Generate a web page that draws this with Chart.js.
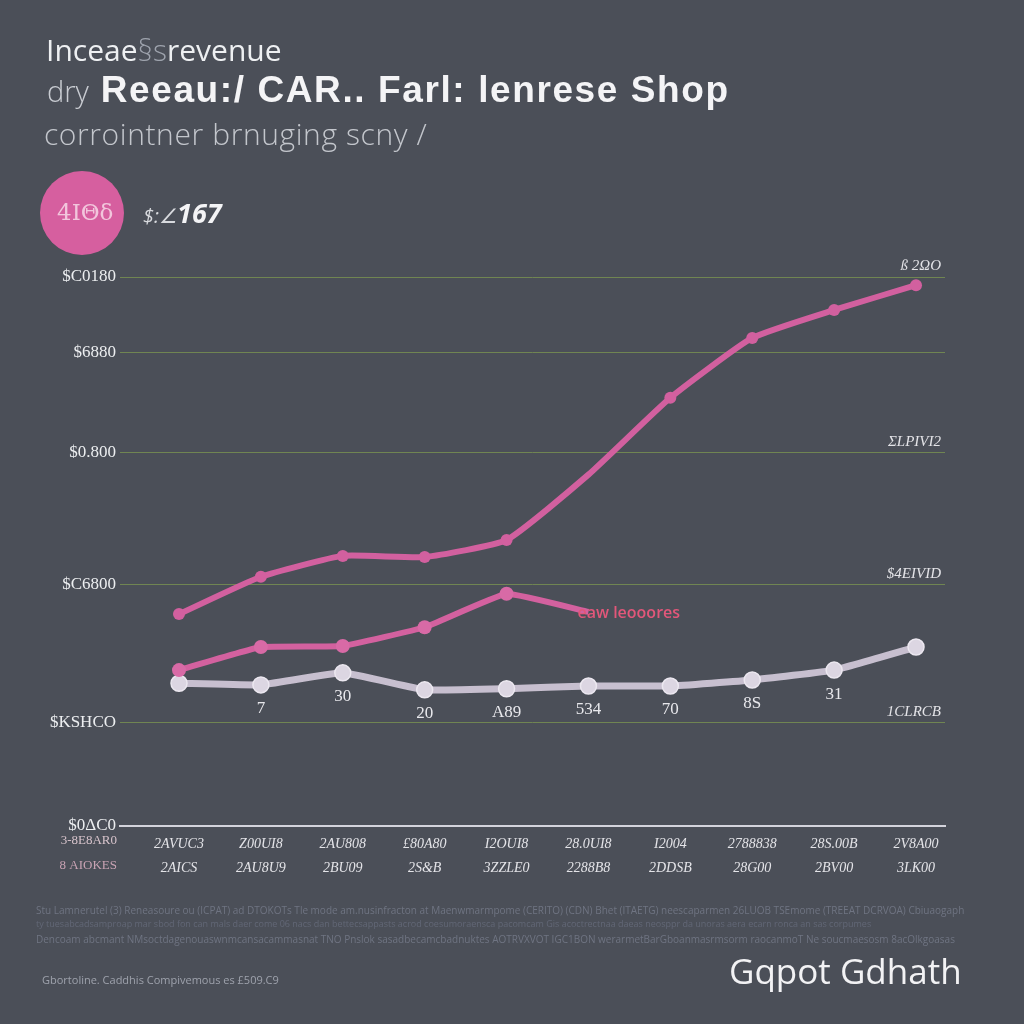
<!DOCTYPE html>
<html>
<head>
<meta charset="utf-8">
<script src="https://cdn.jsdelivr.net/npm/chart.js@4.4.1/dist/chart.umd.min.js"></script>
<style>
  html,body{margin:0;padding:0;background:#4b4f58;}
  #wrap{position:relative;width:1024px;height:1024px;overflow:hidden;background:#4b4f58;font-family:"Open Sans","Noto Sans",sans-serif;}
  #c{position:absolute;left:0;top:0;}
  .t{position:absolute;white-space:nowrap;line-height:1;}
</style>
</head>
<body>
<div id="wrap">
  <canvas id="c" width="1024" height="1024"></canvas>
  <div class="t" style="left:46px;top:35px;font-size:30px;color:#eef0f2;font-weight:500;">Inceae<span style="color:#9ea3ad;font-weight:300;">§s</span>revenue</div>
  <div class="t" style="left:47px;top:71px;font-size:37px;color:#f4f4f6;font-weight:700;font-family:'Liberation Sans',Arial,sans-serif;letter-spacing:1.6px;"><span style="font-weight:300;color:#c9ccd2;font-size:29px;font-family:'Open Sans',sans-serif;letter-spacing:0;">dry</span> Reeau:/ CAR.. Farl: lenrese Shop</div>
  <div class="t" style="left:44px;top:119px;font-size:30px;color:#c3c6cc;font-weight:300;letter-spacing:0.6px;">corrointner brnuging scny /</div>
  <div style="position:absolute;left:40px;top:171px;width:84px;height:84px;border-radius:50%;background:#d65f9f;"></div>
  <div class="t" style="left:57px;top:201px;font-size:23px;color:#f2c6dc;font-family:'DejaVu Serif',serif;">4ΙΘδ</div>
  <div class="t" style="left:143px;top:199px;font-size:27px;color:#f4f4f6;font-weight:700;font-style:italic;"><span style="font-size:20px;font-weight:400;color:#d8dade;">$:∠</span>167</div>
  <div class="t" style="left:36px;top:905px;font-size:10px;color:#6f7482;">Stu Lamnerutel (3) Reneasoure ou (ICPAT) ad DTOKOTs Tle mode am.nusinfracton at Maenwmarmpome (CERITO) (CDN) Bhet (ITAETG) neescaparmen 26LUOB TSEmome (TREEAT DCRVOA) Cbiuaogaph</div>
  <div class="t" style="left:36px;top:919px;font-size:9px;color:#626776;">ty tuesabcadsamproap mar sbod fon can mals daer come 06 nacs dan bettecsappasts acrod coesumoraensca pacomcam Gis acoctrectnaa daeas neosppr da unoras aera ecarn ronca an sas corpumes</div>
  <div class="t" style="left:36px;top:934px;font-size:10px;color:#6f7482;">Dencoam abcmant NMsoctdagenouaswnmcansacammasnat TNO Pnslok sasadbecamcbadnuktes AOTRVXVOT IGC1BON werarmetBarGboanmasrmsorm raocanmoT Ne soucmaesosm 8acOlkgoasas</div>
  <div class="t" style="left:42px;top:974px;font-size:11px;color:#9ea2ac;">Gbortoline. Caddhis Compivemous es £509.C9</div>
  <div class="t" style="left:729px;top:953px;font-size:35px;color:#f2f2f4;font-weight:500;">Gqpot Gdhath</div>
</div>
<script>
// ---- data ----
const tickRow1 = ["2AVUC3","Z00UI8","2AU808","£80A80","I2OUI8","28.0UI8","I2004","2788838","28S.00B","2V8A00"];
const tickRow2 = ["2AICS","2AU8U9","2BU09","2S&B","3ZZLE0","2288B8","2DDSB","28G00","2BV00","3LK00"];
const rowHeaders = ["3-8E8AR0","8 AIOKES"];
const seriesTop  = [38.6, 45.4, 49.2, 49.0, 52.1, 64.0, 78.0, 88.9, 94.0, 98.5];
const seriesMid  = [28.4, 32.6, 32.8, 36.2, 42.3, 39.0, null, null, null, null];
const seriesGray = [26.0, 25.7, 27.9, 24.8, 25.0, 25.5, 25.5, 26.6, 28.4, 32.6];
const grayPointLabels = [null, "7", "30", "20", "A89", "534", "70", "8S", "31", null];
const midEndLabel = "eaw leooores";
const yTickValues = [0, 18.8, 43.9, 68.1, 86.3, 100];
const yTickLabels = ["$0ΔC0", "$KSHCO", "$C6800", "$0.800", "$6880", "$C0180"];
const rightLabelValues = [18.8, 43.9, 68.1, 100];
const rightLabels = ["1CLRCB", "$4EIVID", "ΣLPIVI2", "ß 2ΩO"];

const toXY = arr => arr.map((v, i) => ({x: i + 1, y: v}));

const annotate = {
  id: 'annotate',
  afterDatasetsDraw(chart) {
    const {ctx, chartArea, scales} = chart;
    ctx.save();
    // right-side labels above gridlines
    ctx.font = 'italic 15px "Liberation Serif", serif';
    ctx.fillStyle = '#e4e4e8';
    ctx.textAlign = 'right';
    ctx.textBaseline = 'bottom';
    rightLabelValues.forEach((v, i) => {
      ctx.fillText(rightLabels[i], chartArea.right - 4, scales.y.getPixelForValue(v) - 3);
    });
    // labels under gray points
    const gm = chart.getDatasetMeta(2);
    ctx.font = '17px "Liberation Serif", serif';
    ctx.fillStyle = '#e8e8ec';
    ctx.textAlign = 'center';
    ctx.textBaseline = 'middle';
    grayPointLabels.forEach((t, i) => {
      if (!t) return;
      const p = gm.data[i];
      ctx.fillText(t, p.x, p.y + 24);
    });
    // end label of mid series
    const mm = chart.getDatasetMeta(1);
    let last = 0;
    seriesMid.forEach((v, i) => { if (v !== null) last = i; });
    const pe = mm.data[last];
    ctx.font = '600 16px "Open Sans", sans-serif';
    ctx.fillStyle = '#e2577a';
    ctx.textAlign = 'left';
    ctx.fillText(midEndLabel, pe.x - 11, pe.y + 2);
    // row headers of x labels
    const xs = scales.x;
    ctx.font = '13px "Liberation Serif", serif';
    ctx.textAlign = 'right';
    ctx.fillStyle = '#d8c4cc';
    ctx.fillText(rowHeaders[0], 117, xs.top + 15);
    ctx.fillStyle = '#c9a3b4';
    ctx.fillText(rowHeaders[1], 117, xs.top + 40);
    ctx.restore();
  }
};

new Chart(document.getElementById('c'), {
  type: 'line',
  data: {
    datasets: [
      {
        data: toXY(seriesTop),
        borderColor: '#d2609f',
        backgroundColor: '#d2609f',
        borderWidth: 6,
        pointRadius: ctx => (ctx.dataIndex === 5 ? 0 : 6),
        pointBorderWidth: 0,
        tension: 0.15
      },
      {
        data: toXY(seriesMid),
        borderColor: '#d3619f',
        backgroundColor: '#d86aa6',
        borderWidth: 6,
        pointRadius: ctx => (ctx.dataIndex === 5 ? 0 : 7),
        pointBorderWidth: 0,
        tension: 0.1
      },
      {
        data: toXY(seriesGray),
        borderColor: '#c7bfcf',
        backgroundColor: '#dcd6e2',
        borderWidth: 7,
        pointRadius: 8,
        pointBorderColor: '#ece8f0',
        pointBorderWidth: 1.5,
        tension: 0.1
      }
    ]
  },
  options: {
    responsive: false,
    animation: false,
    devicePixelRatio: 1,
    layout: {padding: {left: 0, top: 277, right: 79, bottom: 136}},
    plugins: {legend: {display: false}, tooltip: {enabled: false}},
    scales: {
      x: {
        type: 'linear',
        min: 0.2795,
        max: 10.354,
        afterBuildTicks: s => { s.ticks = tickRow1.map((_, i) => ({value: i + 1})); },
        afterFit: s => { s.height = 62; },
        grid: {display: false, drawTicks: false},
        border: {display: true, color: '#d4d4dc', width: 2},
        ticks: {
          autoSkip: false,
          maxRotation: 0,
          padding: 6,
          color: '#e4e4e8',
          font: {family: '"Liberation Serif", serif', size: 14, style: 'italic', lineHeight: 1.75},
          callback: (v, i) => [tickRow1[i], tickRow2[i]]
        }
      },
      y: {
        type: 'linear',
        min: 0,
        max: 100,
        afterBuildTicks: s => { s.ticks = yTickValues.map(v => ({value: v})); },
        afterFit: s => { s.width = 120; },
        grid: {
          drawTicks: false,
          lineWidth: 1,
          color: c => (c.tick && c.tick.value === 0 ? 'rgba(0,0,0,0)' : '#708552')
        },
        border: {display: false},
        ticks: {
          padding: 4,
          color: '#eceef0',
          font: {family: '"Liberation Serif", serif', size: 17},
          callback: (v, i) => yTickLabels[i]
        }
      }
    }
  },
  plugins: [annotate]
});
</script>
</body>
</html>
